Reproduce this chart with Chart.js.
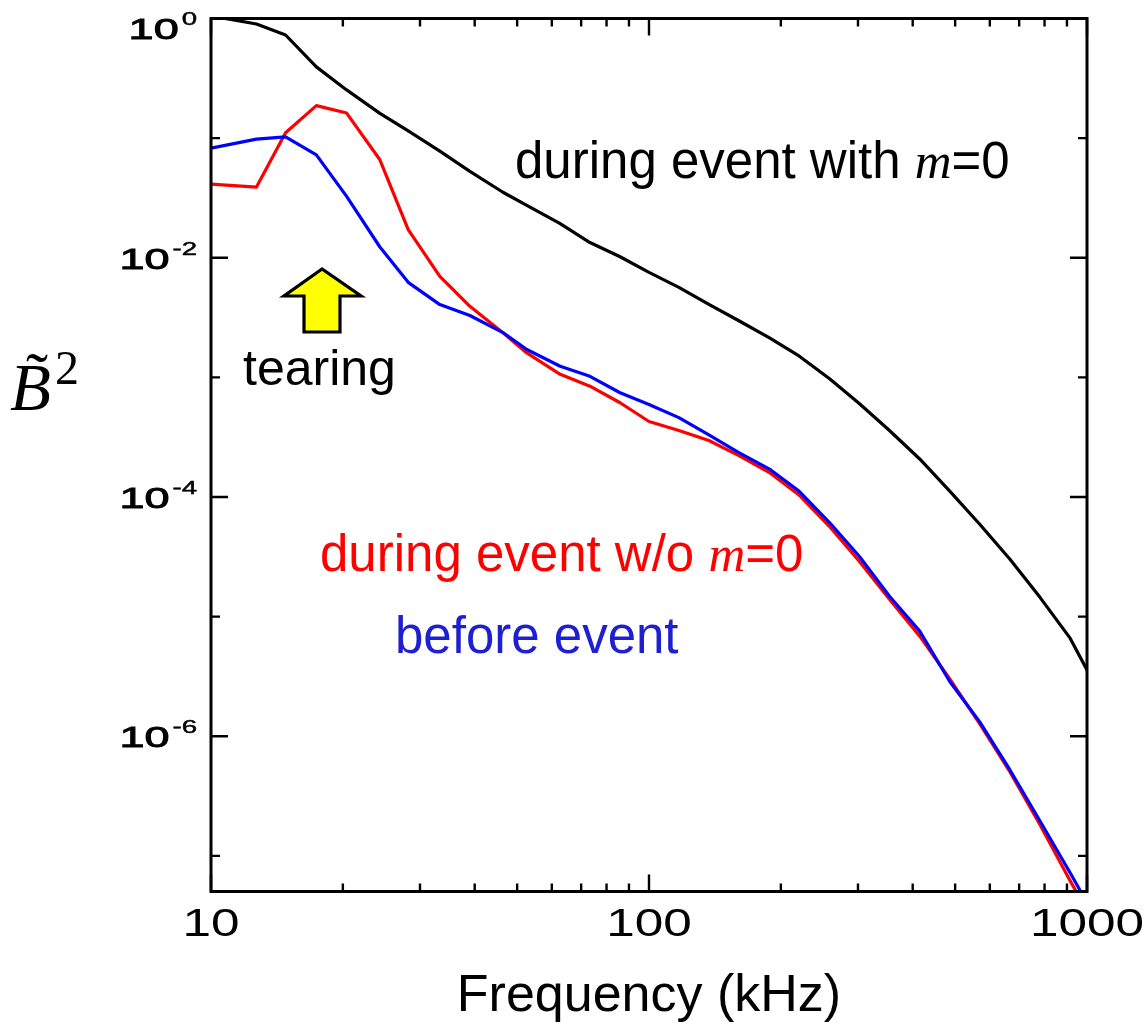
<!DOCTYPE html>
<html><head><meta charset="utf-8">
<script src="https://cdn.jsdelivr.net/npm/chart.js@4.4.1/dist/chart.umd.min.js"></script>
<style>html,body{margin:0;padding:0;background:#fff;overflow:hidden}canvas{display:block}</style>
</head><body>
<canvas id="c" width="1145" height="1026"></canvas>
<script>
// ---- data ----
const frequencies = [10, 12.7, 14.8, 17.4, 20.4, 24.3, 28.2, 33.3, 39, 46.4, 52.6, 62.7, 73.3, 85.9, 100,
  117, 137, 160, 188, 220, 258, 302, 354, 415, 486, 569, 667, 781, 915, 1000];
const duringWithM0 = [1.05, 0.90, 0.728, 0.394, 0.253, 0.161, 0.115, 0.0778, 0.0528, 0.0353, 0.0274, 0.0193,
  0.0134, 0.0102, 0.00754, 0.00566, 0.00408, 0.00299, 0.00215, 0.00151, 0.000979, 0.000605, 0.000360,
  0.000208, 0.000112, 5.92e-5, 3.02e-5, 1.45e-5, 6.61e-6, 3.58e-6];
const duringWithoutM0 = [0.0413, 0.0390, 0.111, 0.187, 0.162, 0.0659, 0.0172, 0.00699, 0.00393, 0.00236,
  0.00160, 0.00106, 0.000844, 0.000614, 0.000428, 0.000360, 0.000297, 0.000223, 0.000161, 0.000104,
  5.69e-5, 2.91e-5, 1.40e-5, 6.87e-6, 3.01e-6, 1.27e-6, 5.04e-7, 1.82e-7, 6.19e-8, 3.48e-8];
const beforeEvent = [0.0825, 0.0981, 0.1025, 0.0725, 0.0326, 0.0123, 0.00623, 0.00406, 0.00329, 0.00237,
  0.00171, 0.00124, 0.00102, 0.000744, 0.000594, 0.000461, 0.000331, 0.000236, 0.000172, 0.000112,
  6.15e-5, 3.20e-5, 1.48e-5, 7.57e-6, 2.87e-6, 1.32e-6, 5.23e-7, 1.96e-7, 7.23e-8, 4.06e-8];

const xTickValues = [10, 20, 30, 40, 50, 60, 70, 80, 90, 100, 200, 300, 400, 500, 600, 700, 800, 900, 1000];
const xTickLabels = {10: '10', 100: '100', 1000: '1000'};
const yTickValues = [1, 1e-1, 1e-2, 1e-3, 1e-4, 1e-5, 1e-6, 1e-7];
const yTickExponents = ['0', null, '-2', null, '-4', null, '-6', null];
const yMin = 5.04e-8, yMax = 1;

const SANS = 'Arial, "Liberation Sans", Helvetica, sans-serif';
const SERIF = '"Times New Roman", "Liberation Serif", serif';

function pts(vals) { return frequencies.map((f, i) => ({x: f, y: vals[i]})); }

function stretched(ctx, text, x, y, font, sx, align, bold) {
  ctx.save();
  ctx.font = font;
  ctx.translate(x, y);
  ctx.scale(sx, 1);
  ctx.textAlign = align;
  ctx.textBaseline = 'alphabetic';
  ctx.fillText(text, 0, 0);
  if (bold) {
    ctx.lineWidth = bold;
    ctx.strokeStyle = '#000';
    ctx.strokeText(text, 0, 0);
  }
  ctx.restore();
}

const framePlugin = {
  id: 'frame',
  afterDatasetsDraw(chart) {
    const {ctx, chartArea: a, scales: {x, y}} = chart;
    ctx.save();
    ctx.strokeStyle = '#000';
    ctx.fillStyle = '#000';
    ctx.lineCap = 'butt';
    // inward ticks
    ctx.lineWidth = 2.4;
    ctx.beginPath();
    x.ticks.forEach(t => {
      const px = x.getPixelForValue(t.value);
      const len = xTickLabels[t.value] ? 17 : 8;
      ctx.moveTo(px, a.bottom); ctx.lineTo(px, a.bottom - len);
      ctx.moveTo(px, a.top); ctx.lineTo(px, a.top + len);
    });
    y.ticks.forEach((t, i) => {
      const py = y.getPixelForValue(t.value);
      const len = yTickExponents[i] ? 17 : 9;
      ctx.moveTo(a.left, py); ctx.lineTo(a.left + len, py);
      ctx.moveTo(a.right, py); ctx.lineTo(a.right - len, py);
    });
    ctx.stroke();
    // box
    ctx.lineWidth = 3;
    ctx.strokeRect(a.left, a.top, a.right - a.left, a.bottom - a.top);

    // x tick labels
    x.ticks.forEach(t => {
      const lab = xTickLabels[t.value];
      if (!lab) return;
      stretched(ctx, lab, x.getPixelForValue(t.value), a.bottom + 44, '38px ' + SANS, 1.35, 'center', 0);
    });
    // y tick labels 10^n
    y.ticks.forEach((t, i) => {
      const e = yTickExponents[i];
      if (!e) return;
      const cy = Math.max(y.getPixelForValue(t.value), a.top + 9);
      const right = a.left - 14;
      ctx.font = '19px ' + SANS;
      const sw = ctx.measureText(e).width * 1.45;
      stretched(ctx, e, right, cy - 3, '19px ' + SANS, 1.45, 'right', 0.5);
      stretched(ctx, '10', right - sw - 3, cy + 11, '30px ' + SANS, 1.5, 'right', 0.9);
    });

    // axis title
    ctx.font = '52px ' + SANS;
    ctx.textAlign = 'center';
    ctx.fillText('Frequency (kHz)', (a.left + a.right) / 2, 1011);

    // y title: B tilde squared
    ctx.textAlign = 'left';
    ctx.font = 'italic 67px ' + SERIF;
    ctx.fillText('B', 10, 410);
    ctx.font = '66px ' + SERIF;
    ctx.textAlign = 'center';
    ctx.fillText('\u02DC', 37, 398);
    ctx.textAlign = 'left';
    ctx.font = '48px ' + SERIF;
    ctx.fillText('2', 55, 384);

    // annotations
    function mixed(parts, x0, yb, color) {
      let cx = x0;
      ctx.fillStyle = color;
      ctx.textAlign = 'left';
      parts.forEach(p => {
        ctx.font = p[1];
        ctx.fillText(p[0], cx, yb);
        cx += ctx.measureText(p[0]).width;
      });
    }
    const f51 = '51px ' + SANS, m51 = 'italic 51px ' + SERIF;
    mixed([['during event with ', f51], ['m', m51], ['=0', f51]], 515, 178, '#000');
    mixed([['during event w/o ', f51], ['m', m51], ['=0', f51]], 320, 571, '#ff0000');
    mixed([['before event', f51]], 395, 653, '#1e1ed2');
    mixed([['tearing', '50px ' + SANS]], 243, 385, '#000');

    // yellow arrow
    ctx.beginPath();
    ctx.moveTo(322, 269);
    ctx.lineTo(284, 296);
    ctx.lineTo(304, 296);
    ctx.lineTo(304, 332);
    ctx.lineTo(340, 332);
    ctx.lineTo(340, 296);
    ctx.lineTo(361, 296);
    ctx.closePath();
    ctx.fillStyle = '#ffff00';
    ctx.fill();
    ctx.lineWidth = 3.2;
    ctx.lineJoin = 'miter';
    ctx.strokeStyle = '#000';
    ctx.stroke();
    ctx.restore();
  }
};

new Chart(document.getElementById('c'), {
  type: 'line',
  data: {
    datasets: [
      {label: 'before event', data: pts(beforeEvent), borderColor: '#0000ff', borderWidth: 3.2},
      {label: 'during event w/o m=0', data: pts(duringWithoutM0), borderColor: '#ff0000', borderWidth: 3.2},
      {label: 'during event with m=0', data: pts(duringWithM0), borderColor: '#000000', borderWidth: 3.2}
    ]
  },
  options: {
    responsive: false,
    animation: false,
    devicePixelRatio: 1,
    layout: {padding: {left: 211, right: 58, top: 18.5, bottom: 134.5}},
    plugins: {legend: {display: false}, tooltip: {enabled: false}},
    elements: {
      point: {radius: 0},
      line: {tension: 0, borderJoinStyle: 'round', borderCapStyle: 'round', fill: false}
    },
    datasets: {line: {clip: 0}},
    scales: {
      x: {
        type: 'logarithmic', min: 10, max: 1000,
        afterBuildTicks: ax => { ax.ticks = xTickValues.map(v => ({value: v})); },
        ticks: {display: false},
        grid: {display: false, drawTicks: false},
        border: {display: false}
      },
      y: {
        type: 'logarithmic', min: yMin, max: yMax,
        afterBuildTicks: ax => { ax.ticks = yTickValues.map(v => ({value: v})); },
        ticks: {display: false},
        grid: {display: false, drawTicks: false},
        border: {display: false}
      }
    }
  },
  plugins: [framePlugin]
});
</script>
</body></html>
